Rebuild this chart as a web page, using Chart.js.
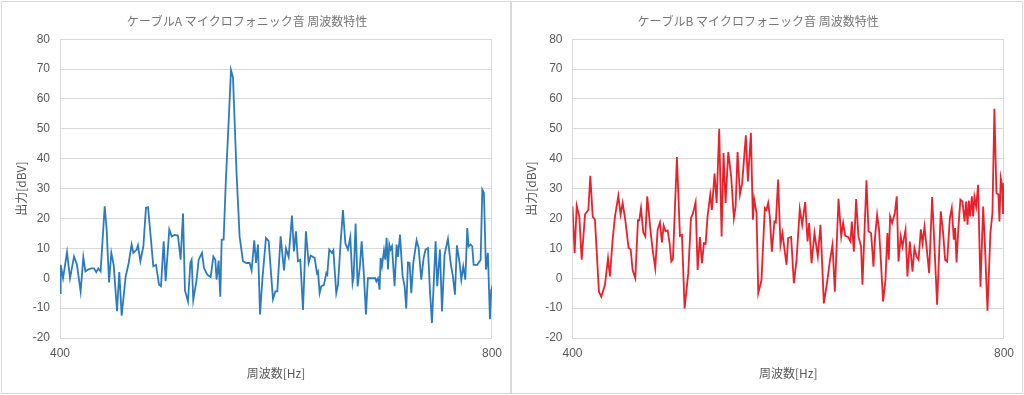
<!DOCTYPE html>
<html>
<head>
<meta charset="utf-8">
<script src="https://cdn.jsdelivr.net/npm/chart.js@4.4.1/dist/chart.umd.min.js"></script>
<style>
  html, body { margin: 0; padding: 0; background: #ffffff; }
  body { width: 1024px; height: 395px; position: relative; overflow: hidden; }
  .panel { position: absolute; top: 1px; height: 393px; border: 1px solid #d9d9d9; box-sizing: border-box; background: #fff; }
  #pA { left: 1px; width: 510px; }
  #pB { left: 511px; width: 512px; }
  canvas { display: block; }
</style>
</head>
<body>
<div class="panel" id="pA"><canvas id="cA" width="508" height="391"></canvas></div>
<div class="panel" id="pB"><canvas id="cB" width="510" height="391"></canvas></div>
<script>
// ---- data ----
const titleA = 'ケーブルA マイクロフォニック音 周波数特性';
const titleB = 'ケーブルB マイクロフォニック音 周波数特性';
const xTitle = '周波数[Hz]';
const yTitle = '出力[dBV]';
const xTicks = [400, 800];
const yTicks = [-20, -10, 0, 10, 20, 30, 40, 50, 60, 70, 80];

const freqA = [400,400.6,402.8,406.5,409.3,413,415.7,419.1,421.6,423.5,
  425.9,429,431.5,433.6,435.5,437.6,441.4,443.2,445.4,447.5,
  449.7,452.8,454.9,457.1,460.8,463.6,466.3,467.9,471,472.2,
  474.4,477.2,479.6,481.5,484.2,486.4,488.9,491.7,493.5,496,
  497.8,501.2,503.4,506.2,509.2,511.7,513.9,515.7,518.5,520.7,
  521.9,523.4,526.5,528.4,531.5,533.3,536.4,539.5,542,543.8,
  545,546.9,548.4,549.7,551.5,
  553.5,556.5,558.3,560.2,563.5,566.3,569.4,
  572.5,575.6,577.4,579.9,581.5,583.3,585.2,587.6,590.7,593.2,
  597.2,599.4,601.2,604.3,607.4,609.2,611.7,614.8,616.6,618.5,
  620.3,622.5,625,627.7,630.2,632.1,635.8,637.9,638.9,640.4,
  641.9,644.4,646.6,647.5,649.3,651.8,653.1,655.8,657.4,659.8,
  662,664.2,666.6,668.8,670.9,671.9,673.7,675.6,677.7,679.3,
  681.1,683.3,685.1,688.2,691.9,692.9,694.4,695.9,696.9,698.1,
  700,701.2,702.4,703.7,704.9,706.1,707.4,709.8,711.7,712.9,
  714.8,717.2,719.1,720.6,722.2,723.7,725.3,727.1,730.2,732.1,
  734.5,736.7,738.5,740.7,742.5,744.4,747.8,749.3,751.8,753.7,
  756.1,759.2,761.7,763.8,765.7,767.5,770,771.6,773.4,775.3,
  777.1,778.3,780.2,781.7,783,786.4,789.5,791,792.5,794.4,
  796.2,798.1,799.3,800];
const valsA = [-5,4.5,0,8.7,0,7.3,4.5,-4.4,7,2.3,
  2.9,3.3,3.3,2,3.3,2.3,24.1,16.3,-1.4,8.5,
  4.5,-11,2.1,-12.5,0.6,5.1,11.3,8.5,9.6,11,
  5.7,10.7,23.6,23.8,13,4,4.5,-2.2,-2.7,12.4,
  -1,16.3,14,14.5,14.3,6.2,21.7,-4.1,-7.8,5.1,
  6.2,-7.3,-0.5,6.2,8.5,3.4,1.2,0.4,7.3,6.2,
  -0.5,5.9,-6.2,12.9,12.9,
  32,55,69.7,67.1,35,14,5.7,
  5.1,5.1,2.6,12.7,5.1,11.3,-12.1,0.6,13.5,12.4,
  -7,-4.4,-4.4,14,2.6,10,7.1,21,9,15.7,
  5.7,6.2,-10.6,15.7,5.1,7.6,6.8,1.7,2.3,-5,
  -2.7,-2.2,1.7,1.2,9.6,8.5,9.4,-5,-2.2,11.8,
  22.8,11.8,9.6,13.8,-1.6,0.6,18.3,-2.7,4,12.4,
  2.9,-12.1,0,0,0,-1,0,-3.8,6.8,4,
  9.4,6.2,13.5,2.9,11.3,9.6,10.7,-2.7,11.3,7.1,
  14.6,0.8,-2.7,-10.1,5.3,5.1,-5,5.1,12.7,10.1,
  -0.5,6.8,9.6,10.1,-3.8,-15,12.4,-2.7,9.6,-11.1,
  7.9,13.2,5.1,0.6,-5.5,11,5.1,-0.5,4,-0.5,
  16.8,10.7,11.3,10.7,4.5,4.5,6.2,29.7,28.6,2.9,
  8.5,-13.7,-3.8,-2.5];

const freqB = [400,402,403.9,406.3,408.5,411.6,414.7,416.5,418.7,420.8,
  424.5,426.7,430.1,432.9,434.7,437.2,439.4,442.5,444.6,446.5,
  448.9,452,453.9,455.7,458.2,460.7,461.9,463.5,465.6,467.5,
  469.3,472.4,474.3,476.7,478.9,481.1,482.9,484.5,486.3,488.2,
  490,491.6,493.1,496.8,499.6,501.5,503.9,507.3,509.8,511.7,
  514.1,516,518.1,520,521.8,523.4,525.2,527.7,529.2,531.7,
  533.6,536,538.2,540,541.9,544.4,547.1,549.6,551.2,553,
  555.2,557.3,560.7,562.6,565.4,567.2,568.4,570.6,572.2,575.2,
  578.3,579.8,581.4,582.9,584.8,587.2,588.5,590.6,592.8,594.6,
  596.2,598.4,599.9,602.7,605.2,607.7,610.7,612.9,615.7,617.9,
  619.4,621.6,624.3,627.4,629.9,633,636.1,638.5,641,643.2,
  646.6,649.1,650.9,652.8,655.5,657.7,658.9,660.8,662.9,665.1,
  667.5,668.8,672.5,674.4,676.8,679,680.5,682.4,684.2,685.8,
  687.9,690.1,691.9,693.2,694.4,696.3,698.8,700.6,702.2,704.3,
  705.9,708.7,710.5,712.7,715.2,717,718.9,720.8,722.9,724.5,
  726.3,728.8,730.6,733.4,735,738,741.4,743.6,745.4,747.3,
  749.8,751.6,753.5,754.7,756,757.8,759.6,761.5,763.4,764.9,
  766.2,767.4,768.6,770.2,771.4,772.6,774.2,776,778.2,780.7,
  782.5,784.7,787.4,789.3,791.1,793,794.8,795.8,797,798.2,
  799.1,800];
const valsB = [24,8.4,24.3,20.7,6.2,21.3,22.9,34.3,20.7,19.6,
  -4.5,-6.2,-2.2,6.7,0.6,12.9,20.7,27.6,21.3,25.2,
  19.6,10.1,9.7,2.8,0,19.4,19.4,23.5,15.3,14,
  27.4,15.7,9.5,3.4,16.2,18.7,12,17.6,15.7,16,
  11.7,5.6,6.4,40.6,14.2,14.5,-10.1,1.7,20.1,21.8,
  25.4,2.8,13.8,5,11.7,11.5,20.7,28,22.9,35,
  25.2,50,14,41.9,25.2,42.2,34.1,20.1,24,42.2,
  28,31.9,47.8,32.4,48.7,19.6,26.5,21.8,-5,-0.6,
  23.5,22.9,25.2,20.7,8.9,19,18.7,33,11.2,15.1,
  10.6,4.5,13.4,13.8,-1.7,6.2,23.2,17.9,25.5,12.3,
  18.5,5,15.1,7.3,17.9,-8.4,-1.1,5.6,11.2,-4.5,
  26.6,14,18.5,14.2,13.8,12.3,19,8.9,26.5,14,
  10.6,-2.2,32.8,15.7,15.1,3.9,14,21.3,16.2,6.2,
  -7.8,-0.6,15.1,6.2,20.7,18.5,21.8,27.4,5.6,14,
  10.6,16.2,0.6,12.3,2.2,10.1,7.3,6.2,16.4,11.7,
  17.3,8.4,1.7,27.2,15.1,-8.9,22.4,15.1,6.2,5.6,
  20.1,23.5,12.9,16.8,5.3,17.3,26.3,25.7,19,25.7,
  17.9,26,20.7,27.4,20.7,27.2,24,31.3,-2.8,24,
  9.5,-10.9,15.1,21.8,56.7,28.5,28,19,33.6,31.3,
  21.8,31.9];

// ---- chart builder ----
const FONT = '"Liberation Sans", "Noto Sans CJK JP", sans-serif';
const TEXT = '#595959';
const GRID = '#d9d9d9';

function pairs(fs, vs) {
  const n = Math.min(fs.length, vs.length);
  const out = [];
  for (let i = 0; i < n; i++) out.push({ x: fs[i], y: vs[i] });
  return out;
}

function makeChart(id, title, fs, vs, color, yAxisWidth, padRight) {
  return new Chart(document.getElementById(id), {
    type: 'line',
    data: {
      datasets: [{
        data: pairs(fs, vs),
        borderColor: color,
        borderWidth: 1.8,
        pointRadius: 0,
        tension: 0,
        fill: false
      }]
    },
    options: {
      responsive: false,
      animation: false,
      devicePixelRatio: 1,
      layout: { padding: { left: 0, right: padRight, top: 0, bottom: 0 } },
      plugins: {
        legend: { display: false },
        tooltip: { enabled: false },
        title: {
          display: true,
          text: title,
          color: '#767676',
          font: { family: '"Noto Sans CJK JP", sans-serif', size: 12, weight: 'normal', lineHeight: 1.2 },
          padding: { top: 12.5, bottom: 10.3 }
        }
      },
      scales: {
        x: {
          type: 'linear',
          min: xTicks[0],
          max: xTicks[xTicks.length - 1],
          afterBuildTicks: (s) => { s.ticks = xTicks.map(v => ({ value: v })); },
          afterFit: (s) => { s.height = 55; },
          ticks: { color: TEXT, font: { family: FONT, size: 12 }, padding: 8, maxRotation: 0, autoSkip: false },
          grid: { color: GRID, lineWidth: 1, drawTicks: false },
          border: { color: GRID, width: 1 },
          title: {
            display: true, text: xTitle, color: TEXT,
            font: { family: '"Noto Sans CJK JP", sans-serif', size: 12, lineHeight: 1.2 },
            padding: { top: 12.8, bottom: 12.8 }
          }
        },
        y: {
          type: 'linear',
          min: yTicks[0],
          max: yTicks[yTicks.length - 1],
          afterBuildTicks: (s) => { s.ticks = yTicks.map(v => ({ value: v })); },
          afterFit: (s) => { s.width = yAxisWidth; },
          ticks: { color: TEXT, font: { family: FONT, size: 12 }, padding: 10, autoSkip: false },
          grid: { color: GRID, lineWidth: 1, drawTicks: false },
          border: { color: GRID, width: 1 },
          title: {
            display: true, text: yTitle, color: TEXT,
            font: { family: '"Noto Sans CJK JP", sans-serif', size: 12, lineHeight: 1.2 },
            padding: { top: 12.5, bottom: 12.5 }
          }
        }
      }
    }
  });
}

makeChart('cA', titleA, freqA, valsA, '#2C7BBF', 58, 18);
makeChart('cB', titleB, freqB, valsB, '#E8212A', 60.5, 17.7);
</script>
</body>
</html>
